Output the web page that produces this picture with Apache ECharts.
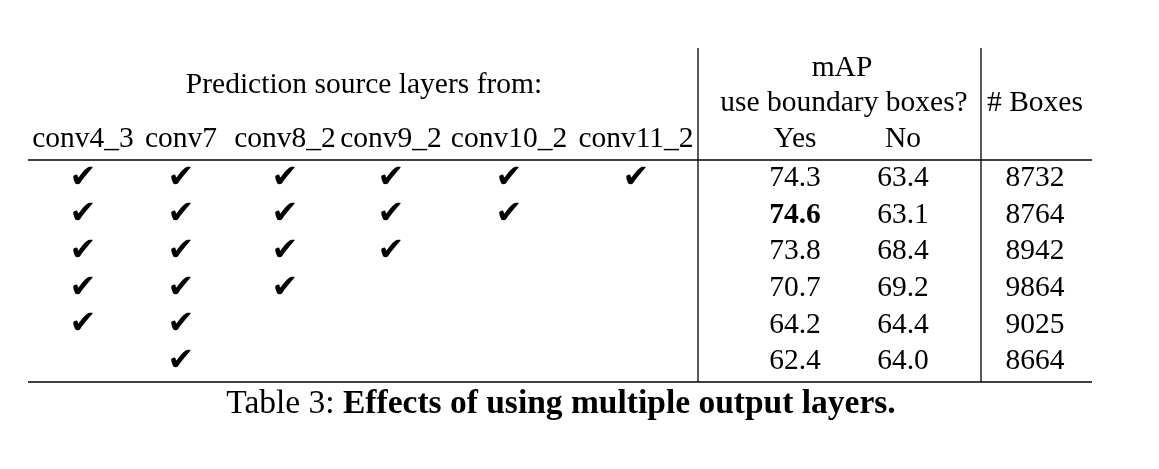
<!DOCTYPE html>
<html>
<head>
<meta charset="utf-8">
<script src="https://cdn.jsdelivr.net/npm/echarts@6/dist/echarts.min.js"></script>
<style>
  html, body { margin: 0; padding: 0; background: #fff; }
  #main { width: 1159px; height: 469px; }
</style>
</head>
<body>
<div id="main"></div>
<script>
// table data
const layers = ['conv4_3', 'conv7', 'conv8_2', 'conv9_2', 'conv10_2', 'conv11_2'];
const used = [
  [1, 1, 1, 1, 1, 1],
  [1, 1, 1, 1, 1, 0],
  [1, 1, 1, 1, 0, 0],
  [1, 1, 1, 0, 0, 0],
  [1, 1, 0, 0, 0, 0],
  [0, 1, 0, 0, 0, 0]
];
const mapYes = [74.3, 74.6, 73.8, 70.7, 64.2, 62.4];
const mapNo = [63.4, 63.1, 68.4, 69.2, 64.4, 64.0];
const numBoxes = [8732, 8764, 8942, 9864, 9025, 8664];
const rowKeys = numBoxes.map((_, i) => 'row' + (i + 1));

// layout (pixels)
const colCenters = [83, 181, 285, 391, 509, 636, 795, 903, 1035];
const colWidth = 90;
const bodyTop = 160, bodyHeight = 220, ruleBottom = 382;
const font = 'Liberation Serif';
const fs = 29.5;

const chart = echarts.init(document.getElementById('main'));

const columns = [];
layers.forEach((name, c) => {
  columns.push({
    header: name, margin: 21,
    data: used.map((r, i) => r[c] ? [0, i] : null).filter(d => d),
    fmt: () => '✔', check: true
  });
});
const best = mapYes.indexOf(Math.max(...mapYes));
columns.push({
  header: 'Yes', margin: 21,
  data: mapYes.map((v, i) => i === best
    ? { value: [0, i, v], label: { fontWeight: 'bold' } }
    : [0, i, v]),
  fmt: p => p.value[2].toFixed(1)
});
columns.push({
  header: 'No', margin: 21,
  data: mapNo.map((v, i) => [0, i, v]),
  fmt: p => p.value[2].toFixed(1)
});
columns.push({
  header: '# Boxes', margin: 57,
  data: numBoxes.map((v, i) => [0, i, v]),
  fmt: p => String(p.value[2])
});

const grid = [], xAxis = [], yAxis = [], series = [];
columns.forEach((col, i) => {
  grid.push({ left: colCenters[i] - colWidth / 2, width: colWidth, top: bodyTop, height: bodyHeight });
  xAxis.push({
    type: 'category', gridIndex: i, position: 'top', data: [col.header],
    axisLine: { show: false }, axisTick: { show: false }, splitLine: { show: false },
    axisLabel: {
      margin: col.margin, verticalAlign: 'middle', color: '#000',
      fontFamily: font, fontSize: fs
    }
  });
  yAxis.push({ type: 'category', gridIndex: i, data: rowKeys, inverse: true, show: false });
  series.push({
    type: 'scatter', xAxisIndex: i, yAxisIndex: i,
    symbolSize: 1, itemStyle: { color: 'rgba(0,0,0,0)', opacity: 1 },
    data: col.data,
    label: {
      show: true, position: 'inside', formatter: col.fmt, color: '#000',
      fontFamily: col.check ? 'DejaVu Sans' : font,
      fontWeight: col.check ? 'bold' : 'normal',
      fontSize: col.check ? 32 : fs
    },
    emphasis: { disabled: true }
  });
});

const lineStyle = { stroke: '#000', lineWidth: 1.3 };
const text = (t, x, y) => ({
  type: 'text', x: x, y: y,
  style: { text: t, fontFamily: font, fontSize: fs, fill: '#000', align: 'center', verticalAlign: 'middle' }
});

chart.setOption({
  animation: false,
  grid: grid, xAxis: xAxis, yAxis: yAxis, series: series,
  graphic: [
    { type: 'line', shape: { x1: 28, y1: bodyTop, x2: 1092, y2: bodyTop }, style: lineStyle },
    { type: 'line', shape: { x1: 28, y1: ruleBottom, x2: 1092, y2: ruleBottom }, style: lineStyle },
    { type: 'line', shape: { x1: 698, y1: 48, x2: 698, y2: ruleBottom }, style: lineStyle },
    { type: 'line', shape: { x1: 981, y1: 48, x2: 981, y2: ruleBottom }, style: lineStyle },
    text('Prediction source layers from:', 364, 85),
    text('mAP', 842, 68),
    text('use boundary boxes?', 844, 103),
    {
      type: 'text', x: 561, y: 404,
      style: {
        text: '{n|Table 3: }{b|Effects of using multiple output layers.}',
        align: 'center', verticalAlign: 'middle',
        rich: {
          n: { fontFamily: font, fontSize: 33.5, fill: '#000' },
          b: { fontFamily: font, fontSize: 33.5, fontWeight: 'bold', fill: '#000' }
        }
      }
    }
  ]
});
</script>
</body>
</html>
